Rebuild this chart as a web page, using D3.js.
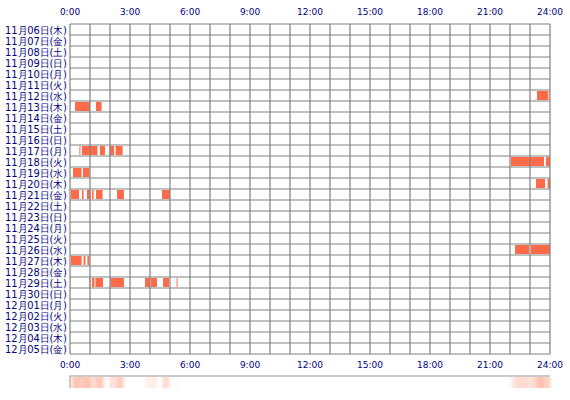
<!DOCTYPE html><html><head><meta charset="utf-8"><script src="https://cdn.jsdelivr.net/npm/d3@7"></script>
<style>body{margin:0;background:#fff}text{font-family:"DejaVu Sans",sans-serif}</style></head><body><svg id="c" width="570" height="400"></svg>
<script>
const dates=["11月06日(木)","11月07日(金)","11月08日(土)","11月09日(日)","11月10日(月)","11月11日(火)","11月12日(水)","11月13日(木)","11月14日(金)","11月15日(土)","11月16日(日)","11月17日(月)","11月18日(火)","11月19日(水)","11月20日(木)","11月21日(金)","11月22日(土)","11月23日(日)","11月24日(月)","11月25日(火)","11月26日(水)","11月27日(木)","11月28日(金)","11月29日(土)","11月30日(日)","12月01日(月)","12月02日(火)","12月03日(水)","12月04日(木)","12月05日(金)"];
const tickLabels=["0:00","3:00","6:00","9:00","12:00","15:00","18:00","21:00","24:00"];
const tickHours=[0,3,6,9,12,15,18,21,24];
// intervals: [rowIndex, startHour, endHour]
const intervals=[
[6,23.35,23.9],[6,23.93,23.97],
[7,0.25,1.0],[7,1.3,1.58],
[11,0.47,0.52],[11,0.6,1.37],[11,1.5,1.75],[11,1.97,2.2],[11,2.28,2.63],
[12,22.05,23.7],[12,23.8,24],
[13,0.15,0.58],[13,0.65,0.97],
[14,23.3,23.75],[14,23.88,24],
[15,0.05,0.45],[15,0.6,0.68],[15,0.85,1.03],[15,1.1,1.18],[15,1.3,1.63],[15,2.35,2.7],[15,4.6,5.0],
[20,22.25,22.95],[20,23.05,24],
[21,0.05,0.58],[21,0.68,0.77],[21,0.87,0.97],
[23,0.97,1.02],[23,1.1,1.22],[23,1.27,1.65],[23,2.02,2.7],[23,3.75,4.0],[23,4.05,4.35],[23,4.65,4.95],[23,5.33,5.38]
];
const svg=d3.select("#c");
svg.append("defs").append("filter").attr("id","bl").append("feGaussianBlur").attr("stdDeviation","1.5 0");
const x=d3.scaleLinear().domain([0,24]).range([70,550]);
const y=d3.scaleBand().domain(d3.range(dates.length)).range([24,354]);
svg.append("g").selectAll("rect").data(intervals).enter().append("rect")
 .attr("x",d=>x(d[1])).attr("width",d=>x(d[2])-x(d[1]))
 .attr("y",d=>y(d[0])+1).attr("height",y.bandwidth()-2).attr("fill","#ff6a48");
const grid=svg.append("g").attr("stroke","#808080").attr("stroke-width",1.2);
d3.range(0,25).forEach(h=>grid.append("line").attr("x1",x(h)).attr("x2",x(h)).attr("y1",24).attr("y2",354));
d3.range(0,dates.length+1).forEach(i=>grid.append("line").attr("x1",70).attr("x2",550).attr("y1",24+i*y.bandwidth()).attr("y2",24+i*y.bandwidth()));
svg.selectAll(".lab").data(dates).enter().append("text")
 .attr("x",67).attr("y",(d,i)=>y(i)+y.bandwidth()/2+4).attr("text-anchor","end")
 .attr("font-size",10.3).attr("fill","#000080").attr("textLength",62).attr("lengthAdjust","spacingAndGlyphs").text(d=>d);
[15,368].forEach(ty=>svg.selectAll(null).data(tickHours).enter().append("text")
 .attr("x",d=>x(d)).attr("y",ty).attr("text-anchor","middle").attr("font-size",9).attr("fill","#000080").text((d,i)=>tickLabels[i]));
const strip=svg.append("g");
strip.append("rect").attr("x",70).attr("y",376).attr("width",480).attr("height",12).attr("fill","#fff");
strip.append("g").attr("filter","url(#bl)").selectAll("rect").data(intervals).enter().append("rect")
 .attr("x",d=>x(d[1])).attr("width",d=>x(d[2])-x(d[1])).attr("y",377).attr("height",11)
 .attr("fill","#ff7a50").attr("opacity",0.14);
strip.append("path").attr("d","M70,388V376H550").attr("fill","none").attr("stroke","#bbb").attr("stroke-width",1.5);
</script></body></html>
